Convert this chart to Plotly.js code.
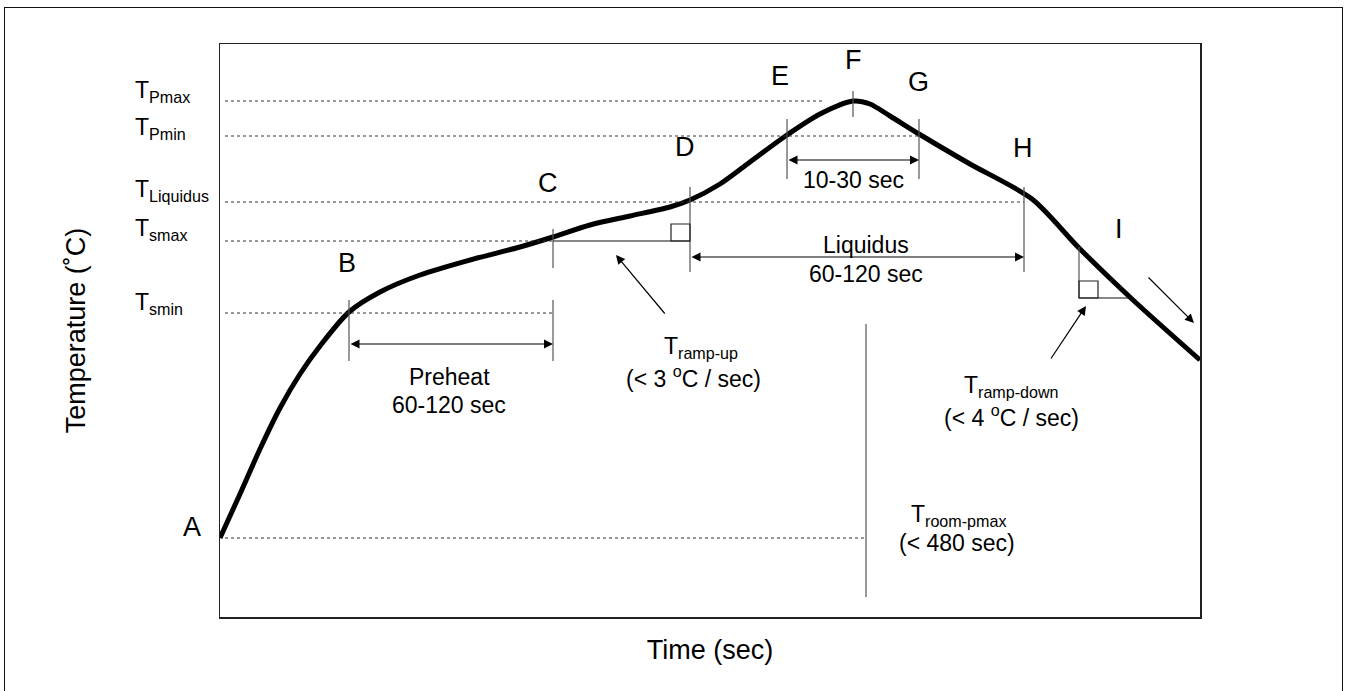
<!DOCTYPE html>
<html><head><meta charset="utf-8">
<script src="https://cdn.plot.ly/plotly-3.0.1.min.js"></script>
<style>
html,body{margin:0;padding:0;overflow:hidden;background:#fff}
#chart{width:1347px;height:691px;position:absolute;left:0;top:0}
#frame{position:absolute;left:4px;top:7px;width:1339px;height:720px;box-sizing:border-box;border:1.5px solid #111;pointer-events:none}
</style></head>
<body><div id="chart"></div><div id="frame"></div>
<script>
// ---- data (arbitrary units: time axis 0..980, temperature axis 0..573) ----
const curveTime = [0,20,40,60,80,100,129,160,200,250,300,333,370,410,450,470,500,530,567,600,633,650,670,699,750,812,859,913,980];
const curveTemp = [79,123,168,209,243,271,305,325,342,357,370,380,392,401,410,417,433,455,482,503,516,513,501,483,453,418,369,317,257];

const levelNames = ['Pmax','Pmin','Liquidus','smax','smin'];
const levelTemp  = [516,481,415,376,304];
const levelEnd   = [605,699,804,333,333];
const roomTemp = 79, roomEnd = 646;

const eventNames = ['B','C','D','E','F','G','H'];
const eventTime  = [129,333,470,567,633,699,804];
const roomPmaxTime = 646;
const rampDownTime = 859, rampDownTemp = 369;

const xRange = [0,980], yRange = [0,573];

// ---- styles ----
const FONT = 'Liberation Sans, Arial, sans-serif';
const ev = n => eventTime[eventNames.indexOf(n)];
const lv = n => levelTemp[levelNames.indexOf(n)];

const traces = [{
  x: curveTime, y: curveTemp, mode: 'lines', type: 'scatter',
  line: {color: '#000', width: 5, shape: 'spline', smoothing: 0.8},
  hoverinfo: 'skip', showlegend: false
}];

const shapes = [];
const dotted = {color: '#333', width: 1, dash: 'dot'};
const grey = {color: '#555', width: 1.2};
levelNames.forEach((n,i) => shapes.push({type:'line', xref:'x', yref:'y', x0:5, x1:levelEnd[i], y0:levelTemp[i], y1:levelTemp[i], line:dotted}));
shapes.push({type:'line', xref:'x', yref:'y', x0:5, x1:roomEnd, y0:roomTemp, y1:roomTemp, line:dotted});

function vline(x, y0, y1){ shapes.push({type:'line', xref:'x', yref:'y', x0:x, x1:x, y0:y0, y1:y1, line:grey}); }
vline(ev('B'), 256, 317);
vline(ev('C'), 349, 388);
vline(ev('C'), 256, 317);
vline(ev('D'), 345, 430);
vline(ev('E'), 438, 498);
vline(ev('F'), 500, 526);
vline(ev('G'), 438, 498);
vline(ev('H'), 345, 430);
vline(roomPmaxTime, 20, 293);
// ramp-up right triangle
shapes.push({type:'line', xref:'x', yref:'y', x0:ev('C'), x1:ev('D'), y0:lv('smax'), y1:lv('smax'), line:{color:'#111', width:1.2}});
shapes.push({type:'rect', xref:'x', yref:'y', x0:ev('D')-19, x1:ev('D'), y0:lv('smax'), y1:lv('smax')+17, line:{color:'#222', width:1.2}});
// ramp-down right triangle
shapes.push({type:'line', xref:'x', yref:'y', x0:rampDownTime, x1:rampDownTime, y0:rampDownTemp+1, y1:rampDownTemp-50, line:{color:'#555', width:1.2}});
shapes.push({type:'line', xref:'x', yref:'y', x0:rampDownTime, x1:rampDownTime+53, y0:rampDownTemp-50, y1:rampDownTemp-50, line:{color:'#111', width:1.2}});
shapes.push({type:'rect', xref:'x', yref:'y', x0:rampDownTime, x1:rampDownTime+19, y0:rampDownTemp-50, y1:rampDownTemp-33, line:{color:'#222', width:1.2}});

const ann = [];
function txt(text, x, y, size, opts){ ann.push(Object.assign({text:text, x:x, y:y, xref:'x', yref:'y', showarrow:false, font:{family:FONT, size:size, color:'#000'}, xanchor:'center', yanchor:'middle'}, opts||{})); }
function arrow(x0,y0,x1,y1,both){ ann.push({text:'', x:x1, y:y1, ax:x0, ay:y0, xref:'x', yref:'y', axref:'x', ayref:'y', showarrow:true, arrowhead:2, arrowsize:1.5, arrowwidth:1.2, arrowcolor:'#000', arrowside: both?'end+start':'end', standoff:0, startstandoff:0}); }

// event letters
const LET = 27;
ann.push({text:'A', x:(192-220)/980, y:90, xref:'paper', yref:'y', showarrow:false, font:{family:FONT,size:LET,color:'#000'}, xanchor:'center', yanchor:'middle'});
txt('B', 127, 354, LET); txt('C', 328, 434, LET); txt('D', 465, 470, LET);
txt('E', 560, 541, LET); txt('F', 633, 557, LET); txt('G', 698, 535, LET);
txt('H', 803, 469, LET); txt('I', 899, 388, LET);

// level labels on the left
const levelLabelY = [526, 489, 427, 388, 314];
levelNames.forEach((n,i) => ann.push({text:'T<sub>'+n+'</sub>', x:(133-220)/980, y:levelLabelY[i], xref:'paper', yref:'y', showarrow:false, font:{family:FONT,size:23,color:'#000'}, xanchor:'left', yanchor:'middle'}));

// interval arrows
arrow(ev('B'), 273, ev('C'), 273, true);
arrow(ev('E'), 457, ev('G'), 457, true);
arrow(ev('D'), 360, ev('H'), 360, true);
arrow(446, 302, 396, 362, false);
arrow(830, 257, 866, 311, false);
arrow(927, 341, 974, 294, false);

const TS = 23;
txt('Preheat', 229, 240, TS); txt('60-120 sec', 229, 212, TS);
txt('Liquidus', 646, 372, TS); txt('60-120 sec', 646, 343, TS);
txt('10-30 sec', 633, 437, TS);
txt('T<sub>ramp-up</sub>', 481, 270, TS); txt('(< 3 <sup>o</sup>C / sec)', 473, 240, TS);
txt('T<sub>ramp-down</sub>', 791, 231, TS); txt('(< 4 <sup>o</sup>C / sec)', 791, 201, TS);
txt('T<sub>room-pmax</sub>', 738, 102, TS); txt('(< 480 sec)', 737, 74, TS);

const axisCommon = {showgrid:false, zeroline:false, showticklabels:false, ticks:'', showline:true, mirror:true, linecolor:'#222', linewidth:1.5, fixedrange:true};
const layout = {
  width:1347, height:691,
  margin:{l:220, r:147, t:44, b:74, pad:0},
  paper_bgcolor:'#fff', plot_bgcolor:'#fff',
  xaxis: Object.assign({range:xRange, title:{text:'Time (sec)', font:{family:FONT, size:27, color:'#000'}, standoff:22}}, axisCommon),
  yaxis: Object.assign({range:yRange, title:{text:'Temperature (\u02DAC)', font:{family:FONT, size:27, color:'#000'}, standoff:125}}, axisCommon),
  shapes: shapes, annotations: ann, showlegend:false
};
Plotly.newPlot('chart', traces, layout, {displayModeBar:false, staticPlot:true});
</script></body></html>
